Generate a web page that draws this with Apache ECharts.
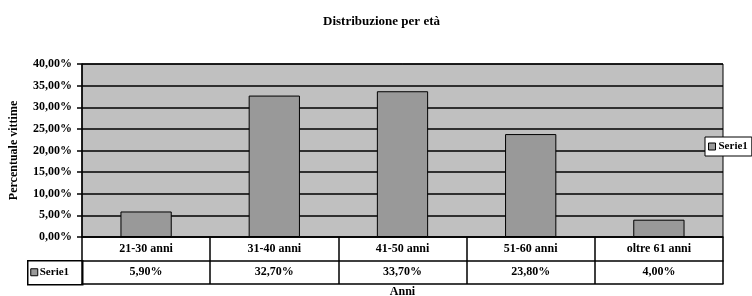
<!DOCTYPE html>
<html>
<head>
<meta charset="utf-8">
<script src="https://cdn.jsdelivr.net/npm/echarts@6/dist/echarts.min.js"></script>
<style>
  html, body { margin: 0; padding: 0; background: #fff; }
  #chart { width: 752px; height: 296px; }
</style>
</head>
<body>
<div id="chart"></div>
<script>
var categories = ['21-30 anni', '31-40 anni', '41-50 anni', '51-60 anni', 'oltre 61 anni'];
var values = [5.9, 32.7, 33.7, 23.8, 4.0];
var seriesName = 'Serie1';

// etichette tabella dati, formato italiano
function fmt(v) { return v.toFixed(2).replace('.', ',') + '%'; }
var valueLabels = values.map(fmt);

var font = 'Liberation Serif';
var chart = echarts.init(document.getElementById('chart'));

var option = {
    animation: false,
    textStyle: { fontFamily: font, color: '#000' },
    title: {
        text: 'Distribuzione per età',
        left: 318,
        top: 10,
        textStyle: { fontFamily: font, fontSize: 13, fontWeight: 'bold', color: '#000' }
    },
    legend: {
        data: [seriesName],
        left: 705,
        top: 137,
        icon: 'rect',
        itemWidth: 7,
        itemHeight: 7,
        itemGap: 3,
        padding: [4, 4, 4, 3],
        backgroundColor: '#fff',
        borderColor: '#000',
        borderWidth: 1,
        itemStyle: { color: '#999', borderColor: '#000', borderWidth: 1 },
        textStyle: { fontFamily: font, fontSize: 11, fontWeight: 'bold', color: '#000', padding: [0, 0, 0, -2] }
    },
    grid: {
        left: 82, right: 29, top: 64, bottom: 59,
        outerBoundsMode: 'none',
        containLabel: false,
        show: true,
        backgroundColor: '#c0c0c0',
        borderColor: '#000',
        borderWidth: 1
    },
    xAxis: [{
        type: 'category',
        data: categories,
        position: 'bottom',
        axisLine: { lineStyle: { color: '#000', width: 1.5 } },
        axisTick: { show: true, length: 47, interval: 0, lineStyle: { color: '#000', width: 1.5 } },
        axisLabel: { interval: 0, margin: 6, fontSize: 12, fontWeight: 'bold', color: '#000', fontFamily: font }
    }, {
        type: 'category',
        data: valueLabels,
        position: 'bottom',
        offset: 24,
        axisLine: { lineStyle: { color: '#000', width: 1.5 } },
        axisTick: { show: false },
        axisLabel: { interval: 0, margin: 5, fontSize: 12, fontWeight: 'bold', color: '#000', fontFamily: font }
    }, {
        type: 'category',
        data: categories,
        position: 'bottom',
        offset: 47,
        name: 'Anni',
        nameLocation: 'middle',
        nameGap: 2,
        nameTextStyle: { fontFamily: font, fontSize: 12, fontWeight: 'bold', color: '#000' },
        axisLine: { lineStyle: { color: '#000', width: 1.5 } },
        axisTick: { show: false },
        axisLabel: { show: false }
    }],
    yAxis: {
        type: 'value',
        min: 0,
        max: 40,
        interval: 5,
        name: 'Percentuale vittime',
        nameLocation: 'middle',
        nameGap: 62,
        nameTextStyle: { fontFamily: font, fontSize: 12, fontWeight: 'bold', color: '#000' },
        axisLine: { show: true, lineStyle: { color: '#000', width: 1.5 } },
        axisTick: { show: true, length: 5, lineStyle: { color: '#000', width: 1.5 } },
        axisLabel: {
            margin: 10, fontSize: 12, fontWeight: 'bold', color: '#000', fontFamily: font,
            formatter: function (v) { return fmt(v); }
        },
        splitLine: { show: true, lineStyle: { color: '#000', width: 1.5 } }
    },
    graphic: [{
        type: 'group',
        left: 27,
        top: 260,
        children: [{
            type: 'rect',
            shape: { x: 0, y: 0, width: 55, height: 24 },
            style: { fill: '#fff', stroke: '#000', lineWidth: 1.5 }
        }, {
            type: 'rect',
            shape: { x: 3, y: 8, width: 7, height: 7 },
            style: { fill: '#999', stroke: '#000', lineWidth: 1 }
        }, {
            type: 'text',
            x: 12, y: 6,
            style: { text: seriesName, font: 'bold 11px "Liberation Serif"', fill: '#000' }
        }]
    }],
    series: [{
        name: seriesName,
        type: 'bar',
        data: values,
        barWidth: '40%',
        itemStyle: { color: '#999999', borderColor: '#000', borderWidth: 1 }
    }]
};

chart.setOption(option);
</script>
</body>
</html>
